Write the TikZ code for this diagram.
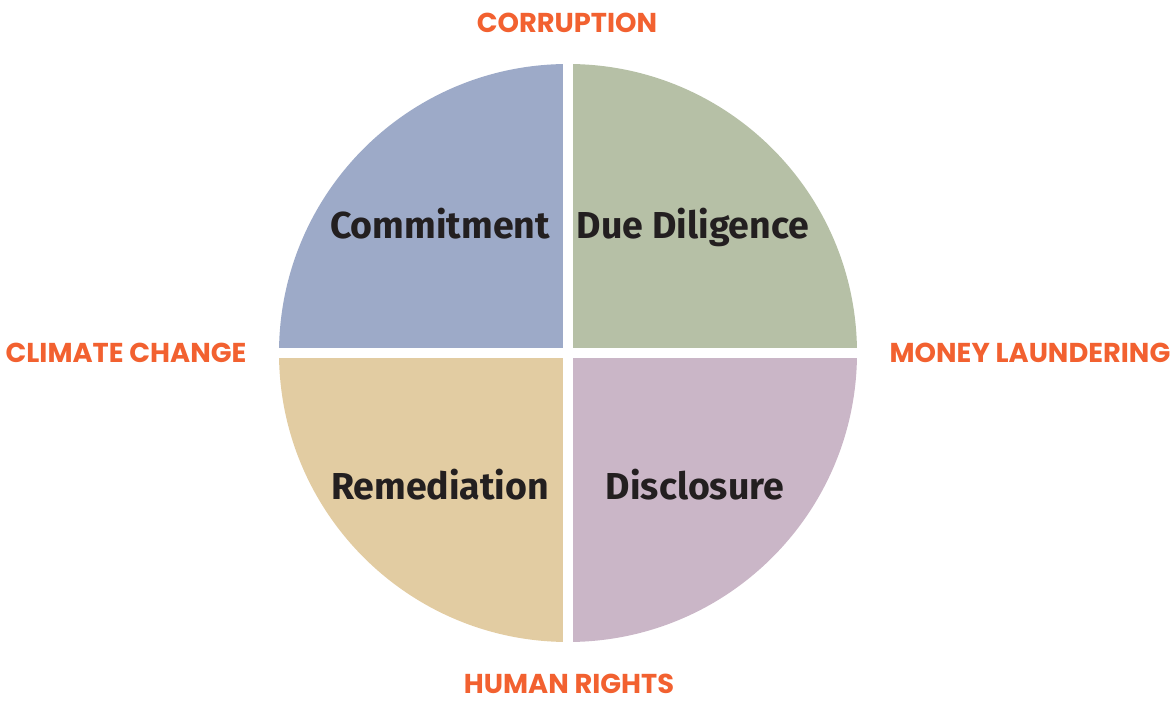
\documentclass[tikz,border=0pt]{standalone}
\usepackage{fontspec}
\newfontfamily\quadfont{Fira Sans}
\newfontfamily\labfont{Poppins}
\definecolor{qblue}{HTML}{9DAAC8}
\definecolor{qgreen}{HTML}{B6C0A6}
\definecolor{qtan}{HTML}{E2CCA2}
\definecolor{qmauve}{HTML}{CAB6C7}
\definecolor{qtext}{HTML}{231F20}
\definecolor{lorange}{HTML}{F26130}
\tikzset{
  quadtext/.style={font=\quadfont\bfseries\fontsize{37.5}{42}\selectfont, text=qtext, inner sep=0pt, anchor=base},
  issue/.style={font=\labfont\bfseries\fontsize{27.3}{32}\selectfont, text=lorange, inner sep=0pt, anchor=base},
}
\begin{document}
\begin{tikzpicture}[x=1pt,y=1pt]
\useasboundingbox (0,0) rectangle (1176,704);
\coordinate (c) at (568,351);
\fill[qblue] (c) -- ++(-289,0) arc[start angle=180, end angle=90, radius=289] -- cycle;
\fill[qgreen] (c) -- ++(0,289) arc[start angle=90, end angle=0, radius=289] -- cycle;
\fill[qmauve] (c) -- ++(289,0) arc[start angle=0, end angle=-90, radius=289] -- cycle;
\fill[qtan] (c) -- ++(0,-289) arc[start angle=270, end angle=180, radius=289] -- cycle;
\draw[white, line width=10pt] (568,55) -- (568,650);
\draw[white, line width=10pt] (270,351) -- (866,351);
\node[quadtext] (commit) at (440,465) {Commitment};
\node[quadtext] (due) at (693,465) {Due Diligence};
\node[quadtext] (remed) at (440,204) {Remediation};
\node[quadtext] (discl) at (695,204) {Disclosure};
\node[issue] (corr) at (567,671) {CORRUPTION};
\node[issue] (clim) at (126,341) {CLIMATE CHANGE};
\node[issue] (money) at (1030,341) {MONEY LAUNDERING};
\node[issue] (human) at (569,10) {HUMAN RIGHTS};
\end{tikzpicture}
\end{document}
